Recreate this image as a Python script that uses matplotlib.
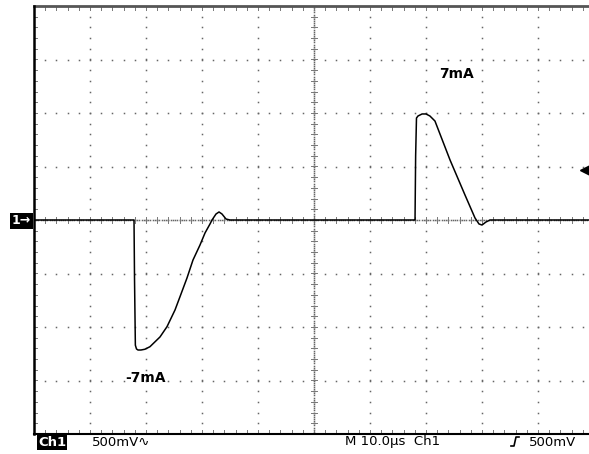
import matplotlib.pyplot as plt
import numpy as np

# scope settings
volts_per_div = 0.5   # 500mV
us_per_div = 10.0     # 10.0us

# trace (time in us from left edge, volts)
neg_t = [0, 17.86, 17.95, 18.1, 18.3, 18.57, 19.1, 19.8, 20.71, 22.5, 23.75, 25.18,
         26.07, 27.32, 28.39, 29.64, 30.54, 31.43, 31.79, 32.5, 33.04, 33.57, 34.29, 35.0, 68.0]
neg_v = [0, 0, -0.55, -1.17, -1.205, -1.215, -1.215, -1.208, -1.184, -1.093, -0.997, -0.841,
         -0.717, -0.542, -0.374, -0.234, -0.121, -0.037, 0, 0.056, 0.075, 0.056, 0.009, 0, 0]
pos_t = [68.0, 68.04, 68.15, 68.3, 68.57, 69.3, 70.0, 70.7, 71.6, 74.29, 76.96, 78.75,
         79.46, 80.0, 80.7, 81.43, 100]
pos_v = [0, 0, 0.6, 0.953, 0.972, 0.991, 0.991, 0.972, 0.925, 0.561, 0.234, 0.019,
         -0.037, -0.047, -0.019, 0, 0]
trig_level = 0.47

fig = plt.figure(figsize=(5.89, 4.54), dpi=100)
ax = fig.add_axes([34 / 589, 20 / 454, 560 / 589, 428 / 454])
ax.set_xlim(0, 10)
ax.set_ylim(-4, 4)
ax.axis('off')

dot = dict(ls='', marker='s', ms=1.1, mew=0, color='#666666')
fine = np.arange(0, 10.001, 0.2)
fine_y = np.arange(-4, 4.001, 0.2)
# dotted graticule
for gx in range(1, 10):
    ax.plot(np.full(len(fine_y), gx), fine_y, **dot)
for gy in range(-3, 4):
    ax.plot(fine, np.full(len(fine), gy), **dot)
# denser center lines
ax.plot(np.arange(0, 10, 0.04), np.zeros(250), **dot)
ax.plot(np.full(200, 5.0), np.arange(-4, 4, 0.04), **dot)

# tick marks on center axes and border
tk = dict(color='#777777', lw=0.7)
for x in fine:
    ax.plot([x, x], [-0.06, 0.06], **tk)
    ax.plot([x, x], [4, 3.93], **tk)
    ax.plot([x, x], [-4, -3.93], **tk)
for y in fine_y:
    ax.plot([4.94, 5.06], [y, y], **tk)
    ax.plot([0, 0.06], [y, y], **tk)

# border
ax.plot([0, 10.2], [4, 4], color='#555555', lw=2, clip_on=False)
ax.plot([0, 10.2], [-4, -4], color='black', lw=1.5, clip_on=False)
ax.plot([0, 0], [-4, 4], color='black', lw=1.8, clip_on=False)

# trace
t = np.array(neg_t + pos_t) / us_per_div
v = np.array(neg_v + pos_v) / volts_per_div
ax.plot(t, v, color='black', lw=1.1)

ax.text(7.55, 2.72, '7mA', fontsize=10, fontweight='bold', ha='center', va='center')
ax.text(2.0, -2.95, '-7mA', fontsize=10, fontweight='bold', ha='center', va='center')

# trigger level marker and ground marker
ax.plot([9.86], [trig_level / volts_per_div], marker='<', ms=8, color='black', clip_on=False)
fig.text(21 / 589, (454 - 221) / 454, '1→', color='white', fontsize=9, fontweight='bold',
         ha='center', va='center',
         bbox=dict(boxstyle='square,pad=0.15', fc='black', ec='none'))

# bottom status line
fig.text(38 / 589, 12 / 454, 'Ch1', color='white', fontsize=9.5, fontweight='bold', va='center',
         bbox=dict(boxstyle='square,pad=0.1', fc='black', ec='none'))
fig.text(92 / 589, 12 / 454, '500mV∿', fontsize=9.5, va='center')
fig.text(345 / 589, 12 / 454, 'M 10.0µs  Ch1', fontsize=9.5, va='center')
fig.text(529 / 589, 12 / 454, '500mV', fontsize=9.5, va='center')
fig.lines.append(plt.Line2D([511 / 589, 514 / 589, 516 / 589, 519 / 589],
                            [8 / 454, 8 / 454, 17 / 454, 17 / 454],
                            transform=fig.transFigure, color='black', lw=1.2))

fig.savefig('out.png', dpi=100)
